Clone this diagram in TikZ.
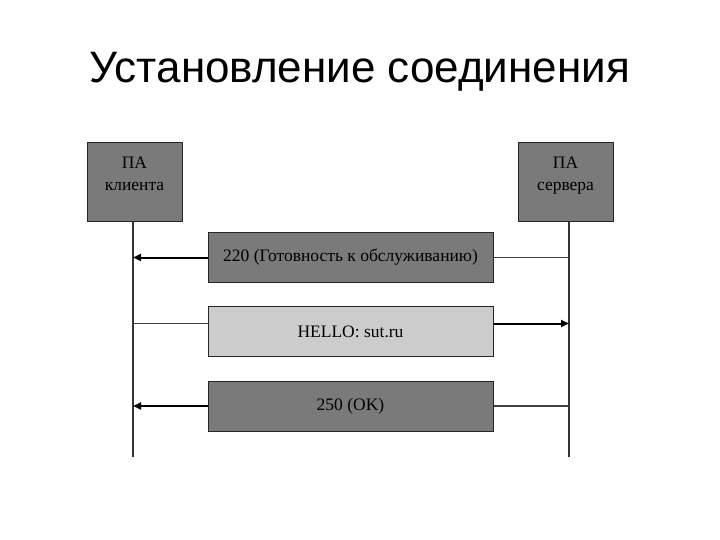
\documentclass[tikz,border=0pt]{standalone}
\usepackage{fontspec}
\setmainfont{Liberation Serif}
\newfontfamily\titlefont{Liberation Sans}
\usetikzlibrary{arrows.meta,positioning}

\begin{document}
\begin{tikzpicture}[
		x=1pt, y=-1pt,
		every node/.style={font=\fontsize{17.5}{22}\selectfont},
		title/.style={font=\titlefont\fontsize{44}{48}\selectfont},
		party/.style={
			draw=black!85,
			fill=black!52,
			line width=1pt,
			align=center,
			minimum width=95pt,
			minimum height=79pt,
			anchor=north
		},
		msg/.style={
			draw=black!85,
			line width=1pt,
			minimum width=285pt,
			minimum height=50pt
		},
		darkmsg/.style={msg, fill=black!52},
		lightmsg/.style={msg, fill=black!20},
		life/.style={line width=1.4pt, black!80},
		arrow/.style={-{Triangle[length=8pt,width=7pt]}, line width=2pt},
		plain/.style={line width=1.6pt, black!75}
		]
		
		\useasboundingbox (0,0) rectangle (720,540);
		
		% ---- Title ----
		\node[title] (heading) at (360,72) {Установление соединения};
		
		% ---- Parties ----
		\node[party] (client) at (134.5,142) {ПА\\клиента\\[-5pt]};
		\node[party] (server) at (565.5,142) {ПА\\сервера\\[-5pt]};
		
		% ---- Lifelines ----
		\coordinate (clientend) at (133,457);
		\coordinate (serverend) at (569,457);
		\draw[life] (client.south -| clientend) -- (clientend);
		\draw[life] (server.south -| serverend) -- (serverend);
		
		% ---- Messages ----
		\node[darkmsg] (m1) at (350.5,257.5) {220 (Готовность к обслуживанию)};
		\node[lightmsg] (m2) at (350.5,331.5) {HELLO: sut.ru};
		\node[darkmsg] (m3) at (350.5,406) {250 (OK)};
		
		% ---- Arrows ----
		\draw[arrow] (m1.west) -- (m1.west -| clientend);
		\draw[plain] (m1.east) -- (m1.east -| serverend);
		
		\draw[plain] ([yshift=8pt]m2.west -| clientend) -- ([yshift=8pt]m2.west);
		\draw[arrow] ([yshift=8pt]m2.east) -- ([yshift=8pt]m2.east -| serverend);
		
		\draw[arrow] (m3.west) -- (m3.west -| clientend);
		\draw[plain] (m3.east) -- (m3.east -| serverend);
		
	\end{tikzpicture}
\end{document}
